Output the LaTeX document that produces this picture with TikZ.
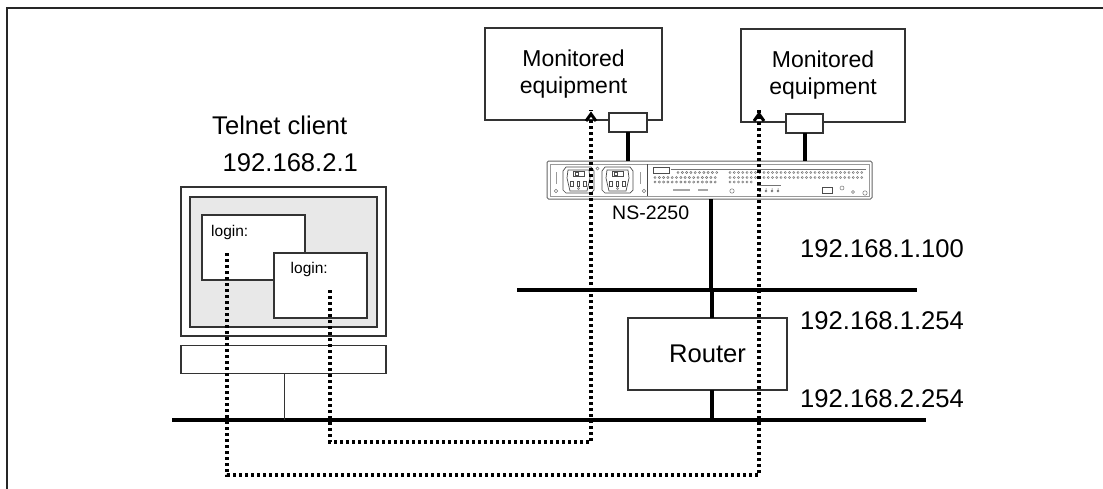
\documentclass[tikz,border=0pt]{standalone}
\usepackage{fontspec}
\setmainfont{Liberation Sans}
\begin{document}
\begin{tikzpicture}[x=1pt,y=-1pt,
  box/.style={draw=black!80,line width=1.3pt,fill=white,inner sep=0pt,outer sep=0pt},
  net/.style={line width=4pt},
  wire/.style={line width=4pt},
  trace/.style={line width=3.6pt,dash pattern=on 3.4pt off 2.6pt},
  chev/.style={line width=3pt,miter limit=10},
  big/.style={inner sep=0pt,font=\fontsize{25.6pt}{30pt}\selectfont},
  mid/.style={inner sep=0pt,font=\fontsize{23pt}{27pt}\selectfont,align=center},
  small/.style={inner sep=0pt,font=\fontsize{15.5pt}{18pt}\selectfont},
  hw/.style={draw=black!70,line width=0.7pt},
  hole/.style={draw=black!55,line width=0.5pt}]
\useasboundingbox (0,0) rectangle (1103,488);

% outer frame
\draw[line width=2pt,black!85] (7,490) -- (7,8) -- (1105,8);

% monitored equipment and their ports
\node[box,minimum width=177pt,minimum height=92pt] (mon1) at (573.5,74) {};
\node[mid] at (mon1) {Monitored\\equipment};
\node[box,minimum width=164pt,minimum height=93pt] (mon2) at (823,75.5) {};
\node[mid] at (mon2) {Monitored\\equipment};
\node[box,minimum width=38pt,minimum height=19pt] (plug1) at (628,122.5) {};
\node[box,minimum width=37pt,minimum height=19pt] (plug2) at (804.5,123.5) {};

% console server NS-2250
\node[draw=black!60,line width=1pt,fill=white,rounded corners=1.5pt,inner sep=0pt,outer sep=0pt,
      minimum width=325pt,minimum height=38pt] (dev) at (709.5,180) {};
\draw[hw,black!40] (550,164) rectangle (869,196);
\foreach \sx in {563,602}{
  \draw[hw] (\sx+3,167) -- (\sx+28,167) -- (\sx+31,171) -- (\sx+31,190) -- (\sx+28,193)
            -- (\sx+3,193) -- (\sx,190) -- (\sx,171) -- cycle;
  \draw[hw] (\sx+5,170) -- (\sx+26,170) -- (\sx+27,178) -- (\sx+24,191) -- (\sx+7,191)
            -- (\sx+4,178) -- cycle;
  \draw[hw] (\sx+10,171) rectangle (\sx+21,176.5);
  \draw[hw] (\sx+12,172.5) rectangle (\sx+15,175);
  \foreach \px in {9,15.5,22}{\draw[hw] (\sx+\px-1.2,181) rectangle (\sx+\px+1.2,186.5);}
  \draw[hole] (\sx+15.5,188.5) circle (1.1pt);
}
\draw[hole] (597.5,168.5) circle (1.6pt);
\draw[hole] (556,191) circle (1.8pt);
\draw[hole] (644,191) circle (1.8pt);
\draw[hw,black!40] (556,172) -- (556,184);
\draw[hw,black!40] (640,172) -- (640,184);
\draw[hw] (647,164) -- (647,196);
\draw[hw] (653,167) rectangle (669,173);
\draw[hole] (671,169) -- (866,169);
\foreach \cx in {0,...,9}{\draw[hole] (678+4.3*\cx,172.5) circle (1.1pt);}
\foreach \row in {177.5,182}{
  \foreach \cx in {0,...,14}{\draw[hole] (655+4.3*\cx,\row) circle (1.1pt);}}
\foreach \row in {172.5,177.5}{
  \foreach \cx in {0,...,31}{\draw[hole] (730+4.25*\cx,\row) circle (1.1pt);}}
\foreach \cx in {0,...,5}{\draw[hole] (730+4.25*\cx,182) circle (1.1pt);}
\draw[black!35,line width=1.2pt] (673,190) -- (690,190);
\draw[black!35,line width=1.2pt] (698,190) -- (708,190);
\draw[hole] (732,191) circle (2.2pt);
\draw[hole] (757,185) -- (781,185);
\foreach \lx in {760,766,772,778}{\draw[hole] (\lx,191) circle (1.1pt) -- (\lx,188);}
\draw[hw] (822,187) rectangle (832,193);
\draw[hole] (842,188) circle (2pt);
\draw[hole] (853,192) circle (1.5pt);
\draw[hole] (865,193) circle (2.2pt);
\node[inner sep=0pt,anchor=base west,font=\fontsize{19.5pt}{22pt}\selectfont] (nslbl) at (612,219) {NS-2250};

% networks
\coordinate (n1w) at (517,290);
\coordinate (n1e) at (917,290);
\coordinate (n2w) at (172,420);
\coordinate (n2e) at (926,420);
\draw[net] (n1w) -- (n1e);
\draw[net] (n2w) -- (n2e);

% router
\node[box,minimum width=159pt,minimum height=72pt] (rt) at (707.5,354) {};
\node[big] at (rt) {Router};
\coordinate (rtop) at (711.5,318);
\coordinate (rbot) at (711.5,390);
\coordinate (dbot) at (711,199);
\draw[wire] (dbot) -- (dbot |- n1w);
\draw[wire] (rtop) -- (rtop |- n1w);
\draw[wire] (rbot) -- (rbot |- n2w);
\draw[wire] (plug1.south) -- (plug1.south |- dev.north);
\draw[wire] (plug2.south) -- (plug2.south |- dev.north);

% telnet client terminal
\node[box,minimum width=205pt,minimum height=149pt] (scr) at (283.5,261.5) {};
\node[draw=black!80,line width=1.3pt,fill=black!9,inner sep=0pt,outer sep=0pt,
      minimum width=187pt,minimum height=130pt] (disp) at (283.5,262) {};
\node[box,minimum width=103pt,minimum height=65pt] (win1) at (253.5,247.5) {};
\node[box,minimum width=93pt,minimum height=65pt] (win2) at (320.5,285.5) {};
\node[box,minimum width=205pt,minimum height=27.5pt] (kbd) at (283.5,359.5) {};
\node[small,anchor=base west] (lg1) at (211,236) {login:};
\node[small,anchor=base west] (lg2) at (290.5,273.5) {login:};
\coordinate (stem) at (284,373.25);
\draw[line width=1pt,black!80] (stem) -- (stem |- n2w);

% labels
\node[big,anchor=base west] (tc) at (212,134) {Telnet client};
\node[big,anchor=base west] (tcip) at (222.5,171.5) {192.168.2.1};
\node[big,anchor=base west] (ip1) at (800,257) {192.168.1.100};
\node[big,anchor=base west] (ip2) at (800,329) {192.168.1.254};
\node[big,anchor=base west] (ip3) at (800,407) {192.168.2.254};

% telnet sessions through the router to each port, ending in open chevrons
\coordinate (sa) at (330,290);
\coordinate (ya) at (450,442);
\coordinate (ta) at (591,114);
\coordinate (sb) at (227,253);
\coordinate (yb) at (450,475);
\coordinate (tb) at (759,114);
\draw[trace] (sa) |- (ya) -| ([yshift=4pt]ta);
\draw[trace] (sb) |- (yb) -| ([yshift=4pt]tb);
\draw[chev] ([shift={(-5,7)}]ta) -- (ta) -- ([shift={(5,7)}]ta);
\draw[chev] ([shift={(-5,7)}]tb) -- (tb) -- ([shift={(5,7)}]tb);
\end{tikzpicture}
\end{document}
